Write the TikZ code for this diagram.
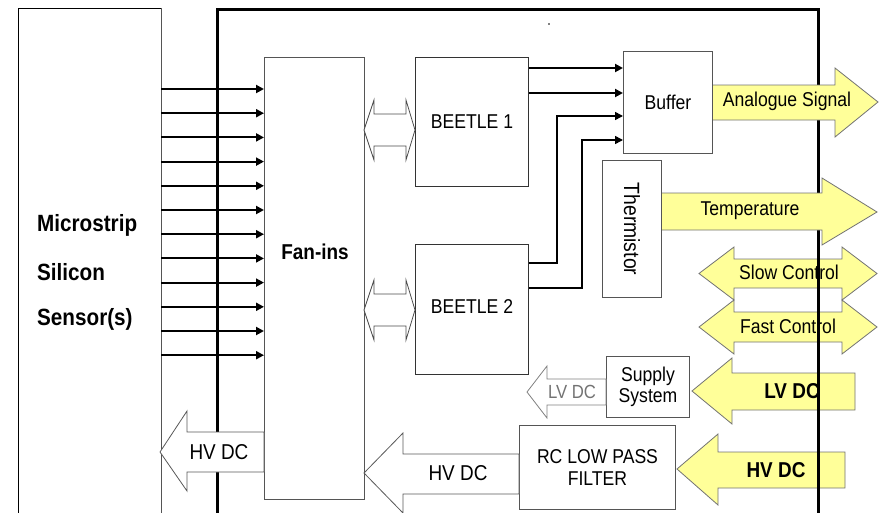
\documentclass[tikz,border=0pt]{standalone}
\usepackage{fontspec}
\setmainfont{Liberation Sans}[FakeStretch=0.88]
\usetikzlibrary{arrows.meta,calc}
\definecolor{ylw}{HTML}{FFFF99}
\definecolor{edge}{HTML}{555555}
\begin{document}
\begin{tikzpicture}[x=1pt,y=-1pt,
  box/.style={draw=edge,line width=1pt,fill=white,inner sep=0pt,anchor=north west},
  lbl/.style={inner sep=0pt,font=\fontsize{20}{22}\selectfont},
  blbl/.style={inner sep=0pt,font=\fontsize{21.5}{23}\selectfont\bfseries},
  sig/.style={line width=2pt,-{Triangle[length=8pt,width=8pt]}},
  sigthin/.style={line width=1.5pt,-{Triangle[length=8pt,width=8pt]}},
  fatY/.style={draw=black!55,line width=0.8pt,fill=ylw,line join=miter},
  fatW/.style={draw=black!65,line width=0.8pt,fill=white,line join=miter},
]
\useasboundingbox (0,0) rectangle (879,512);
\clip (0,0) rectangle (879,512);

% sensor
\node[box,draw=none,minimum width=142pt,minimum height=540pt] (sensor) at (18,8) {};
\draw[line width=1pt,black] (sensor.south west) -- (sensor.north west) -- (sensor.north east);
\draw[line width=1pt,edge] (sensor.north east) -- (sensor.south east);
\node[anchor=west,inner sep=0pt,font=\fontsize{23.5}{25}\selectfont\bfseries] (t1) at (37,225) {Microstrip};
\node[anchor=west,inner sep=0pt,font=\fontsize{23.5}{25}\selectfont\bfseries] (t2) at (37,272) {Silicon};
\node[anchor=west,inner sep=0pt,font=\fontsize{23.5}{25}\selectfont\bfseries] (t3) at (37,319) {Sensor(s)};

% right-side arrows drawn under the board line
\path[fatY] (877,273.5) -- (842,247) -- (842,259) -- (734,259) -- (734,247) -- (699,273.5)
  -- (734,300) -- (734,288) -- (842,288) -- (842,300) -- cycle;
\path[fatY] (877,327) -- (842,300) -- (842,312) -- (734,312) -- (734,300) -- (699,327)
  -- (734,354) -- (734,342) -- (842,342) -- (842,354) -- cycle;
\node[lbl] (slow) at (789,272) {Slow Control};
\node[lbl] (fast) at (788,326) {Fast Control};
\path[fatY] (692,391) -- (732,358) -- (732,373) -- (855,373) -- (855,410) -- (732,410) -- (732,424) -- cycle;
\node[blbl] (lvdc) at (792,391) {LV DC};
\path[fatY] (677,469) -- (718,434) -- (718,452) -- (845,452) -- (845,488) -- (718,488) -- (718,505) -- cycle;
\node[blbl] (hvdc) at (776,470) {HV DC};

% board
\node[draw=black,line width=3pt,inner sep=0pt,anchor=north west,minimum width=601pt,minimum height=540pt] (board) at (216,8) {};
\fill (549,24) circle (0.8pt);

% boxes
\node[box,minimum width=100pt,minimum height=442pt] (fanins) at (264,57) {};
\node[inner sep=0pt,font=\fontsize{21.5}{23}\selectfont\bfseries] (fantxt) at (315,252) {Fan-ins};
\node[box,minimum width=113pt,minimum height=129pt,draw=black!80] (b1) at (415,57) {};
\node[lbl] at (b1.center) {BEETLE 1};
\node[box,minimum width=113pt,minimum height=130pt,draw=black!80] (b2) at (415,244) {};
\node[lbl] at ($(b2.center)+(0,-3)$) {BEETLE 2};
\node[box,minimum width=89pt,minimum height=102pt] (buffer) at (623,51) {};
\node[lbl] at (buffer.center) {Buffer};
\node[box,minimum width=59pt,minimum height=137pt] (therm) at (602,160) {};
\node[lbl,rotate=-90,font=\fontsize{22}{24}\selectfont] at (therm.center) {Thermistor};
\node[box,minimum width=83pt,minimum height=61pt] (supply) at (606,356) {};
\node[lbl,align=center,font=\fontsize{20}{21}\selectfont] at (supply.center) {Supply\\System};
\node[box,minimum width=156pt,minimum height=84pt] (rc) at (519,425) {};
\node[lbl,align=center,font=\fontsize{20}{22}\selectfont] at (rc.center) {RC LOW PASS\\FILTER};

% sensor -> fan-ins signal lines
\foreach \i in {0,...,11}{
  \coordinate (r\i) at (0,{89+24.2*\i});
  \draw[sig] (sensor.east |- r\i) -- (fanins.west |- r\i);
}

% fan-ins <-> beetles
\foreach \c/\n in {130/d1,310/d2}{
  \path[fatW,draw=black!70] (364,\c) -- (374,\c-30) -- (374,\c-16) -- (406,\c-16) -- (406,\c-30) -- (415,\c)
    -- (406,\c+30) -- (406,\c+16) -- (374,\c+16) -- (374,\c+30) -- cycle;
}

% beetles -> buffer
\coordinate (y1) at (0,68);
\coordinate (y2) at (0,93);
\coordinate (k1) at (557,116);
\coordinate (k2) at (582,140);
\coordinate (y3) at (0,263);
\coordinate (y4) at (0,288);
\draw[sig] (b1.east |- y1) -- (buffer.west |- y1);
\draw[sig] (b1.east |- y2) -- (buffer.west |- y2);
\draw[sigthin] (b2.east |- y3) -| (k1) -- (buffer.west |- k1);
\draw[sigthin] (b2.east |- y4) -| (k2) -- (buffer.west |- k2);

% outgoing yellow arrows (over board line)
\path[fatY] (buffer.east |- 0,85) -- (835,85) -- (835,68) -- (878,102) -- (835,137) -- (835,120) -- (buffer.east |- 0,120);
\node[lbl] (ana) at (787,101) {Analogue Signal};
\path[fatY] (therm.east |- 0,193) -- (822,193) -- (822,178) -- (877,212) -- (822,245) -- (822,230) -- (therm.east |- 0,230);
\node[lbl] (temp) at (750,211) {Temperature};

% white power arrows
\path[fatW] (364,473) -- (403,433) -- (403,454) -- (rc.west |- 0,454) -- (rc.west |- 0,494) -- (403,494) -- (403,513) -- cycle;
\node[inner sep=0pt,font=\fontsize{21.5}{23}\selectfont] (hv1) at (458,473) {HV DC};
\path[fatW,draw=black!50] (527,392) -- (547,366) -- (547,379) -- (supply.west |- 0,379) -- (supply.west |- 0,405) -- (547,405) -- (547,418) -- cycle;
\node[inner sep=0pt,font=\fontsize{19}{21}\selectfont,text=black!55] (lv1) at (572,392) {LV DC};
\path[fatW] (160,452) -- (187,411) -- (187,432) -- (fanins.west |- 0,432) -- (fanins.west |- 0,472) -- (187,472) -- (187,491) -- cycle;
\node[inner sep=0pt,font=\fontsize{21.5}{23}\selectfont] (hv2) at (219,452) {HV DC};
\end{tikzpicture}
\end{document}
